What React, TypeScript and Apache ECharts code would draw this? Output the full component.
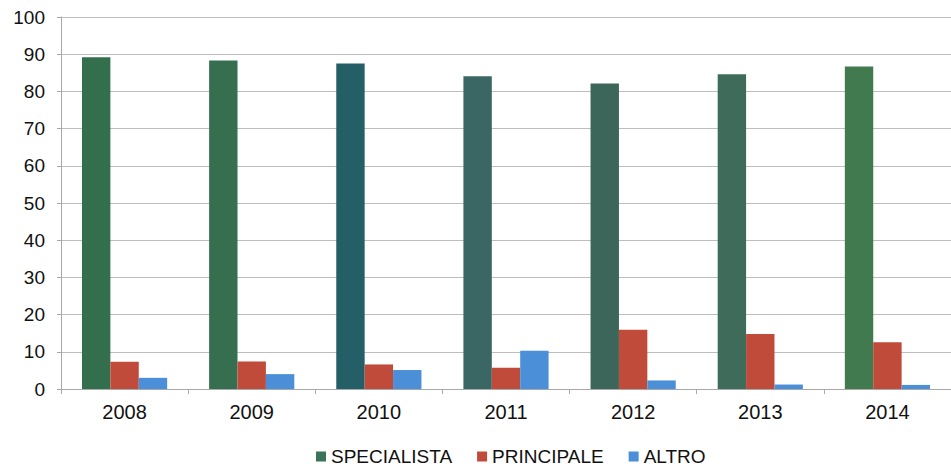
import React, { useEffect, useRef } from "react";
import * as echarts from "echarts";

const categories = ["2008", "2009", "2010", "2011", "2012", "2013", "2014"];
const specialista = [89.2, 88.3, 87.5, 84.1, 82.1, 84.6, 86.7];
const principale = [7.3, 7.4, 6.6, 5.7, 15.9, 14.8, 12.6];
const altro = [3.0, 4.0, 5.1, 10.3, 2.3, 1.2, 1.1];
const specialistaShades = ["#346f4d", "#366f4f", "#245f67", "#3a6664", "#3b6659", "#3e6b5a", "#427a50"];

export default function App() {
  const ref = useRef<HTMLDivElement>(null);
  useEffect(() => {
    if (!ref.current) return;
    const chart = echarts.init(ref.current, undefined, { renderer: "svg" });
    const font = "Liberation Sans, Arial, sans-serif";
    chart.setOption({
      animation: false,
      backgroundColor: "#ffffff",
      textStyle: { fontFamily: font },
      grid: { left: 61, top: 17, bottom: 81, right: -10, containLabel: false },
      legend: {
        bottom: -1,
        left: 311,
        itemWidth: 10,
        itemHeight: 10,
        itemGap: 25,
        icon: "rect",
        textStyle: { fontSize: 19, color: "#111", fontFamily: font },
        data: ["SPECIALISTA", "PRINCIPALE", "ALTRO"],
      },
      xAxis: {
        type: "category",
        data: categories,
        axisLine: { show: true, lineStyle: { color: "#a8a8a8", width: 1 } },
        axisTick: { show: true, length: 5, lineStyle: { color: "#a8a8a8" } },
        axisLabel: { fontSize: 20, color: "#111", margin: 13, fontFamily: font },
      },
      yAxis: {
        type: "value",
        min: 0,
        max: 100,
        interval: 10,
        axisLine: { show: true, lineStyle: { color: "#a8a8a8", width: 1 } },
        axisTick: { show: true, length: 4, lineStyle: { color: "#a8a8a8" } },
        axisLabel: { fontSize: 19, color: "#111", margin: 16, fontFamily: font },
        splitLine: { show: true, lineStyle: { color: "#bdbdbd", width: 1 } },
      },
      series: [
        {
          name: "SPECIALISTA",
          type: "bar",
          barGap: "0%",
          barCategoryGap: "33%",
          itemStyle: { color: "#3b7358" },
          data: specialista.map((v, i) => ({ value: v, itemStyle: { color: specialistaShades[i] } })),
        },
        {
          name: "PRINCIPALE",
          type: "bar",
          barGap: "0%",
          barCategoryGap: "33%",
          itemStyle: { color: "#c04b3a" },
          data: principale,
        },
        {
          name: "ALTRO",
          type: "bar",
          barGap: "0%",
          barCategoryGap: "33%",
          itemStyle: { color: "#4a8fd8" },
          data: altro,
        },
      ],
    });
    return () => chart.dispose();
  }, []);
  return <div ref={ref} style={{ width: 951, height: 470, position: "absolute", left: 0, top: 0 }} />;
}
